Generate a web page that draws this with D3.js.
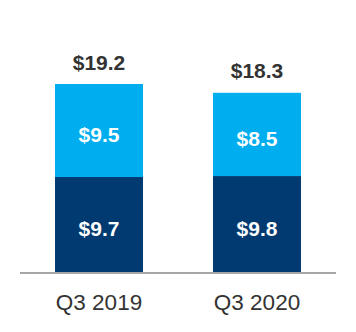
<!DOCTYPE html>
<html>
<head>
<meta charset="utf-8">
<script src="https://cdn.jsdelivr.net/npm/d3@7"></script>
<style>
  html, body { margin: 0; padding: 0; background: #fff; }
  svg { display: block; font-family: "Liberation Sans", Arial, sans-serif; }
</style>
</head>
<body>
<div id="chart"></div>
<script>
// Quarterly revenue split into two segments, stacked, with totals on top.
const quarters = ['Q3 2019', 'Q3 2020'];
const lowerValues = [9.7, 9.8];   // navy segment
const upperValues = [9.5, 8.5];   // light blue segment
const totals = [19.2, 18.3];

const COLORS = { lower: '#003a70', upper: '#00aeef' };

const width = 356;
const height = 332;
const margin = { top: 84, right: 20, bottom: 60, left: 20 };
const baseline = 272;

const svg = d3.select('#chart').append('svg')
  .attr('width', width)
  .attr('height', height);

const x = d3.scaleBand()
  .domain(quarters)
  .range([margin.left, width - margin.right])
  .paddingInner(0.443)
  .paddingOuter(0.2215);

const y = d3.scaleLinear()
  .domain([0, 19.2])
  .range([baseline, margin.top]);

const rows = quarters.map((q, i) => ({
  q,
  lower: lowerValues[i],
  upper: upperValues[i],
  total: totals[i],
}));

const stack = d3.stack().keys(['lower', 'upper'])(rows);

stack.forEach((layer) => {
  const g = svg.append('g').attr('class', `layer-${layer.key}`);
  g.selectAll('rect')
    .data(layer)
    .join('rect')
    .attr('x', (d) => x(d.data.q))
    .attr('width', x.bandwidth())
    .attr('y', (d) => y(d[1]))
    .attr('height', (d) => y(d[0]) - y(d[1]))
    .attr('fill', COLORS[layer.key]);

  // value label, sitting a little below the segment's midpoint
  g.selectAll('text')
    .data(layer)
    .join('text')
    .attr('x', (d) => x(d.data.q) + x.bandwidth() / 2)
    .attr('y', (d) => (y(d[0]) + y(d[1])) / 2 + 6)
    .attr('text-anchor', 'middle')
    .attr('dominant-baseline', 'middle')
    .attr('fill', '#fff')
    .attr('font-weight', 'bold')
    .attr('font-size', 21)
    .text((d) => `$${d.data[layer.key].toFixed(1)}`);
});

// totals above each bar
svg.append('g')
  .selectAll('text')
  .data(rows)
  .join('text')
  .attr('x', (d) => x(d.q) + x.bandwidth() / 2)
  .attr('y', (d) => y(d.total) - 20)
  .attr('text-anchor', 'middle')
  .attr('dominant-baseline', 'middle')
  .attr('fill', '#333')
  .attr('font-weight', 'bold')
  .attr('font-size', 21)
  .text((d) => `$${d.total.toFixed(1)}`);

// baseline axis with category labels
const axis = svg.append('g')
  .attr('transform', `translate(0,${baseline + 1})`)
  .call(d3.axisBottom(x).tickSize(0).tickPadding(21));

axis.select('.domain')
  .attr('d', `M${margin.left},0H${width - margin.right}`)
  .attr('stroke', '#a6a6a6')
  .attr('stroke-width', 2);

axis.selectAll('text')
  .attr('font-size', 22.5)
  .attr('font-family', '"Liberation Sans", Arial, sans-serif')
  .attr('fill', '#333');
</script>
</body>
</html>
